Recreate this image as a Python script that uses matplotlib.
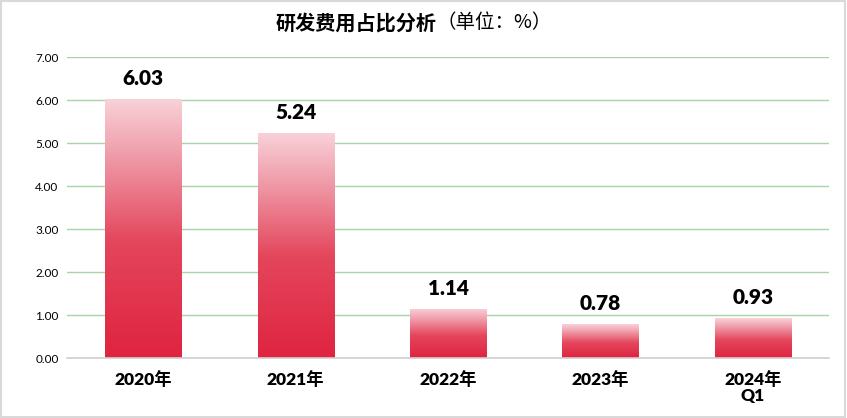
import numpy as np
import matplotlib.pyplot as plt
from matplotlib.colors import LinearSegmentedColormap
from matplotlib.patches import Rectangle

plt.rcParams['font.family'] = ['Lato', 'Noto Sans CJK SC', 'DejaVu Sans']

# 数据
categories = ['2020年', '2021年', '2022年', '2023年', '2024年\nQ1']
values = [6.03, 5.24, 1.14, 0.78, 0.93]
yticks = [0, 1, 2, 3, 4, 5, 6, 7]

fig = plt.figure(figsize=(8.47, 4.18), dpi=100)
fig.patch.set_facecolor('white')
fig.add_artist(Rectangle((0.001, 0.002), 0.997, 0.995, transform=fig.transFigure,
                         fill=False, edgecolor='#D9D9D9', linewidth=1.5))

ax = fig.add_axes([0.0791, 0.1435, 0.8997, 0.7201])

# градиент для столбцов
cmap = LinearSegmentedColormap.from_list(
    'bar', [(0.0, '#DF2440'), (0.45, '#E4465C'), (0.8, '#F0A1AE'), (1.0, '#F9D2D9')])
grad = np.linspace(0, 1, 256).reshape(-1, 1)

x = np.arange(len(categories))
width = 0.5
bars = ax.bar(x, values, width=width, color='none', edgecolor='none', zorder=3)
for b in bars:
    x0, y0 = b.get_x(), b.get_y()
    w, h = b.get_width(), b.get_height()
    im = ax.imshow(grad, cmap=cmap, aspect='auto', origin='lower',
                   extent=(x0, x0 + w, y0, y0 + h), zorder=3)
    im.set_clip_path(b)

for xi, v in zip(x, values):
    ax.annotate(f'{v:.2f}', (xi, v), xytext=(0, 8), textcoords='offset points',
                ha='center', va='bottom', fontsize=15, fontweight='heavy', color='black')

ax.set_xlim(-0.5, len(categories) - 0.5)
ax.set_ylim(0, 7)
ax.set_yticks(yticks)
ax.set_yticklabels([f'{t:.2f}' for t in yticks], fontsize=8.5)
ax.set_xticks(x)
ax.set_xticklabels(categories, fontsize=12.5, fontweight='heavy', linespacing=1.0,
                   multialignment='center')
ax.tick_params(axis='x', length=0, pad=9)
ax.tick_params(axis='y', length=0, pad=6)

ax.grid(axis='y', color='#A8D4A8', linewidth=1.0, zorder=0)
ax.set_axisbelow(True)
for s in ['top', 'right', 'left']:
    ax.spines[s].set_visible(False)
ax.spines['bottom'].set_color('#D0D0D0')
ax.spines['bottom'].set_linewidth(1.2)
ax.spines['bottom'].set_zorder(4)

fig.text(0.515, 0.945, '研发费用占比分析', ha='right', va='center',
         fontsize=14.5, fontweight='bold', family=['Noto Sans CJK SC', 'DejaVu Sans'])
fig.text(0.515, 0.945, '（单位：%）', ha='left', va='center',
         fontsize=14, family=['Noto Sans CJK SC', 'DejaVu Sans'])

fig.savefig('out.png', dpi=100)
